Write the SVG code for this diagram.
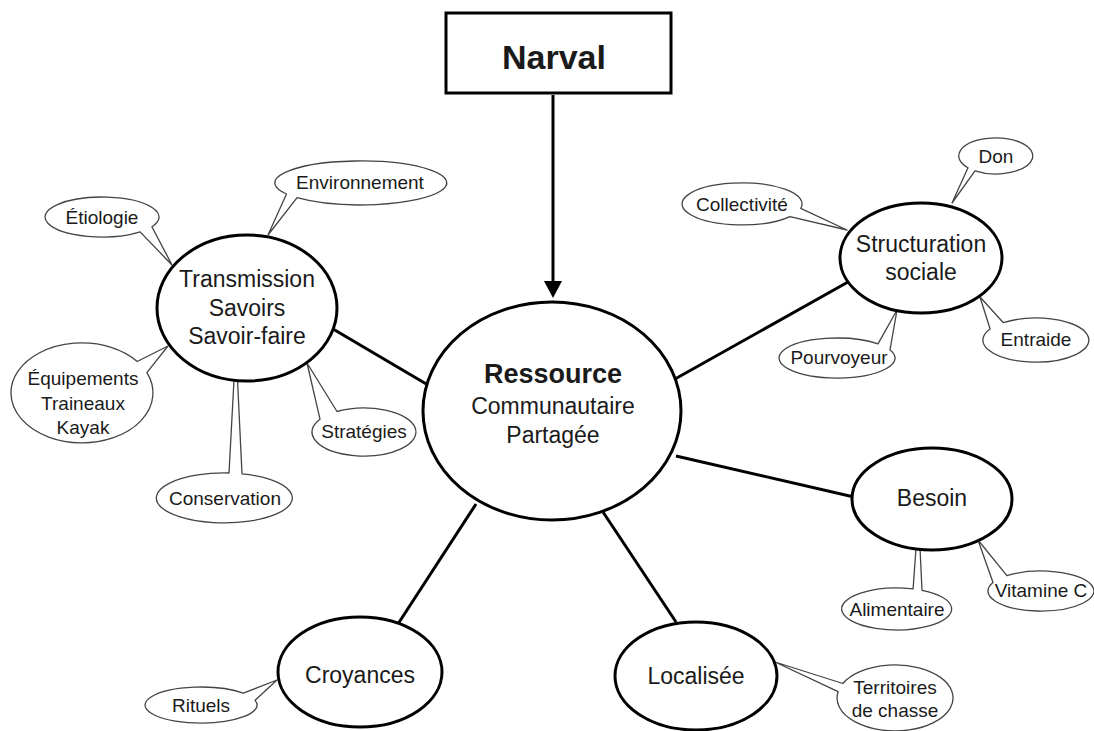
<svg xmlns="http://www.w3.org/2000/svg" width="1094" height="731" viewBox="0 0 1094 731">
<style>
text{font-family:"Liberation Sans",Arial,Helvetica,sans-serif;fill:#1a1a1a;text-anchor:middle}
.main{fill:#fff;stroke:#000;stroke-width:3}
.bub{fill:#fff;stroke:#444;stroke-width:1.3;stroke-linejoin:round}
.conn{stroke:#000;stroke-width:3;fill:none}
.t{font-size:23px}
.s{font-size:19px}
</style>
<rect width="1094" height="731" fill="#fff"/>
<g id="connectors">
<line class="conn" x1="553" y1="95" x2="553" y2="284"/>
<polygon points="544,281 562,281 553,298" fill="#000"/>
<line class="conn" x1="333" y1="329" x2="428" y2="385"/>
<line class="conn" x1="848" y1="282" x2="675" y2="379"/>
<line class="conn" x1="676" y1="456" x2="854" y2="497"/>
<line class="conn" x1="476" y1="504" x2="396" y2="627"/>
<line class="conn" x1="603" y1="512" x2="676" y2="622"/>
</g>
<g id="etiologie"><path class="bub" d="M140.1,231.9 L172,265 L151.9,226.7 A57,20 0 1 0 140.1,231.9 Z"/><text class="s" x="102" y="224">Étiologie</text></g>
<g id="environnement"><path class="bub" d="M286.5,194 L268,235 L297.1,197.7 A86,22 0 1 0 286.5,194 Z"/><text class="s" x="360" y="189">Environnement</text></g>
<g id="equipements"><path class="bub" d="M146.9,372.7 L168,346 L137.2,361.5 A71,50 0 1 0 146.9,372.7 Z"/><text class="s" x="83" y="385">Équipements</text><text class="s" x="83" y="410">Traineaux</text><text class="s" x="83" y="434">Kayak</text></g>
<g id="conservation"><path class="bub" d="M242,473.8 L237.5,380 L234,380 L229,473 A68,25 0 1 0 242,473.8 Z"/><text class="s" x="225" y="505">Conservation</text></g>
<g id="strategies"><path class="bub" d="M337,411.5 L307,363 L320,419.2 A52,24 0 1 0 337,411.5 Z"/><text class="s" x="364" y="438">Stratégies</text></g>
<g id="collectivite"><path class="bub" d="M789.9,216.6 L847,230 L800.7,208.4 A60,21 0 1 0 789.9,216.6 Z"/><text class="s" x="742" y="211">Collectivité</text></g>
<g id="don"><path class="bub" d="M968,167.8 L952,203 L975,170.8 A37,18 0 1 0 968,167.8 Z"/><text class="s" x="996" y="163">Don</text></g>
<g id="pourvoyeur"><path class="bub" d="M890,349.9 L897,310 L878,343.9 A58,20 0 1 0 890,349.9 Z"/><text class="s" x="839" y="364">Pourvoyeur</text></g>
<g id="entraide"><path class="bub" d="M1003.4,322.7 L980,297 L990.1,329 A53,22 0 1 0 1003.4,322.7 Z"/><text class="s" x="1036" y="346">Entraide</text></g>
<g id="alimentaire"><path class="bub" d="M922,590.3 L920,548 L916,548 L913.1,588.9 A55,21 0 1 0 922,590.3 Z"/><text class="s" x="897" y="616">Alimentaire</text></g>
<g id="vitaminec"><path class="bub" d="M1006.9,575.7 L978,540 L993,582.5 A53,20 0 1 0 1006.9,575.7 Z"/><text class="s" x="1041" y="597">Vitamine C</text></g>
<g id="rituels"><path class="bub" d="M255.1,700.3 L277,680 L243.3,693.2 A56,18 0 1 0 255.1,700.3 Z"/><text class="s" x="201" y="712">Rituels</text></g>
<g id="territoires"><path class="bub" d="M842.9,683.5 L775,662 L838.1,691.7 A58,33 0 1 0 842.9,683.5 Z"/><text class="s" x="895" y="694">Territoires</text><text class="s" x="895" y="717">de chasse</text></g>
<g id="narval"><rect x="446" y="13" width="225" height="80" fill="#fff" stroke="#000" stroke-width="3"/><text x="554" y="69" style="font-size:34px;font-weight:bold">Narval</text></g>
<g id="ressource"><ellipse class="main" cx="552" cy="411" rx="129" ry="109"/><text x="553" y="383" style="font-size:27px;font-weight:bold">Ressource</text><text class="t" x="553" y="414">Communautaire</text><text class="t" x="553" y="443">Partagée</text></g>
<g id="transmission"><ellipse class="main" cx="247" cy="308" rx="90" ry="73"/><text class="t" x="247" y="287">Transmission</text><text class="t" x="247" y="316">Savoirs</text><text class="t" x="247" y="344">Savoir-faire</text></g>
<g id="structuration"><ellipse class="main" cx="921" cy="258" rx="81" ry="55"/><text class="t" x="921" y="252">Structuration</text><text class="t" x="921" y="280">sociale</text></g>
<g id="besoin"><ellipse class="main" cx="932" cy="499" rx="80" ry="51"/><text class="t" x="932" y="506">Besoin</text></g>
<g id="croyances"><ellipse class="main" cx="360" cy="672" rx="82" ry="55"/><text class="t" x="360" y="683">Croyances</text></g>
<g id="localisee"><ellipse class="main" cx="696" cy="676" rx="81" ry="54"/><text class="t" x="696" y="684">Localisée</text></g>
</svg>
